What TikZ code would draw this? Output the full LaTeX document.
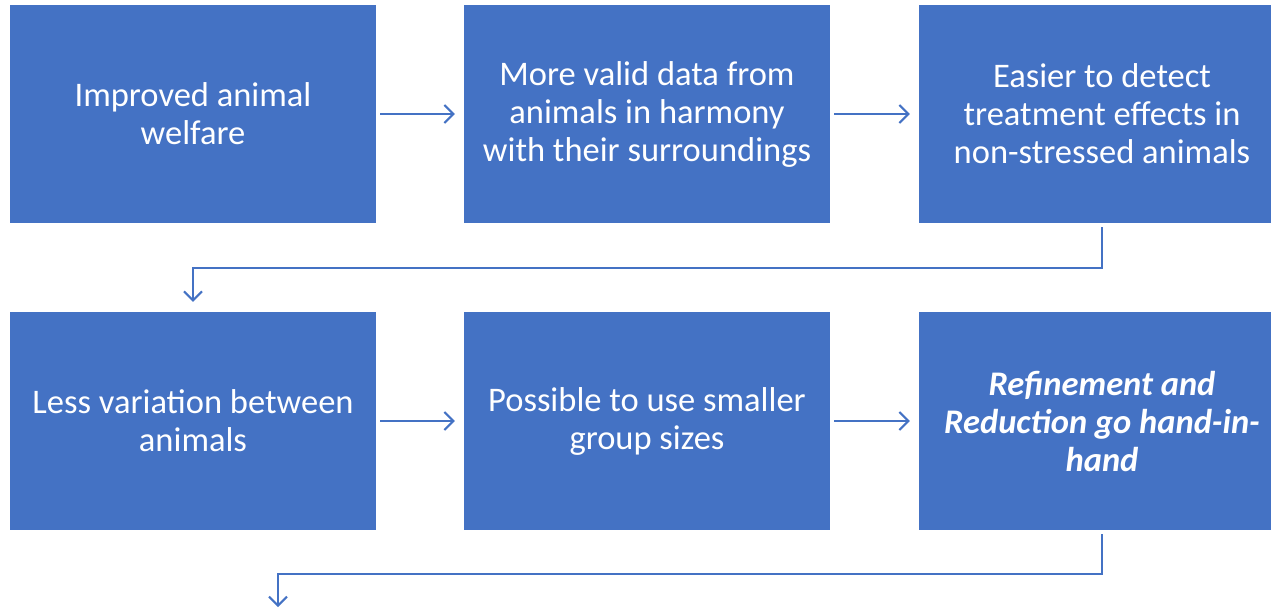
\documentclass[tikz,border=0pt]{standalone}
\usepackage{fontspec}
\setmainfont{Carlito}
\usetikzlibrary{arrows.meta}
\definecolor{boxblue}{HTML}{4472C4}
\tikzset{
  flowbox/.style={fill=boxblue, draw=none, minimum width=366pt, minimum height=218pt, inner sep=0pt,
    text=white, align=center, font=\fontsize{34.5}{38}\selectfont},
  conn/.style={draw=boxblue, line width=2pt, -{Straight Barb[length=9pt,width=18pt,line width=2pt]}}
}
\begin{document}
\begin{tikzpicture}[x=1pt,y=-1pt]
\useasboundingbox (0,0) rectangle (1271,610);
\clip (0,0) rectangle (1271,610);
\node[flowbox] (b1) at (193,114) {Improved animal\\welfare};
\node[flowbox] (b2) at (647,114) {More valid data from\\animals in harmony\\with their surroundings};
\node[flowbox] (b3) at (1102,114) {Easier to detect\\treatment effects in\\non-stressed animals};
\node[flowbox] (b4) at (193,421) {Less variation between\\animals};
\node[flowbox] (b5) at (647,421) {Possible to use smaller\\group sizes};
\node[flowbox] (b6) at (1102,421) {\bfseries\itshape Refinement and\\\bfseries\itshape Reduction go hand-in-\\\bfseries\itshape hand};
\coordinate (end) at (278,607);
\draw[conn] ([xshift=4pt]b1.east) -- ([xshift=-9pt]b2.west);
\draw[conn] ([xshift=4pt]b2.east) -- ([xshift=-9pt]b3.west);
\draw[conn] ([xshift=4pt]b4.east) -- ([xshift=-9pt]b5.west);
\draw[conn] ([xshift=4pt]b5.east) -- ([xshift=-9pt]b6.west);
\draw[conn] ([yshift=-4pt]b3.south) -- (1102,268) -- (193,268) -- ([yshift=10pt]b4.north);
\draw[conn] ([yshift=-4pt]b6.south) -- (1102,574) -- (278,574) -- (end);
\end{tikzpicture}
\end{document}
